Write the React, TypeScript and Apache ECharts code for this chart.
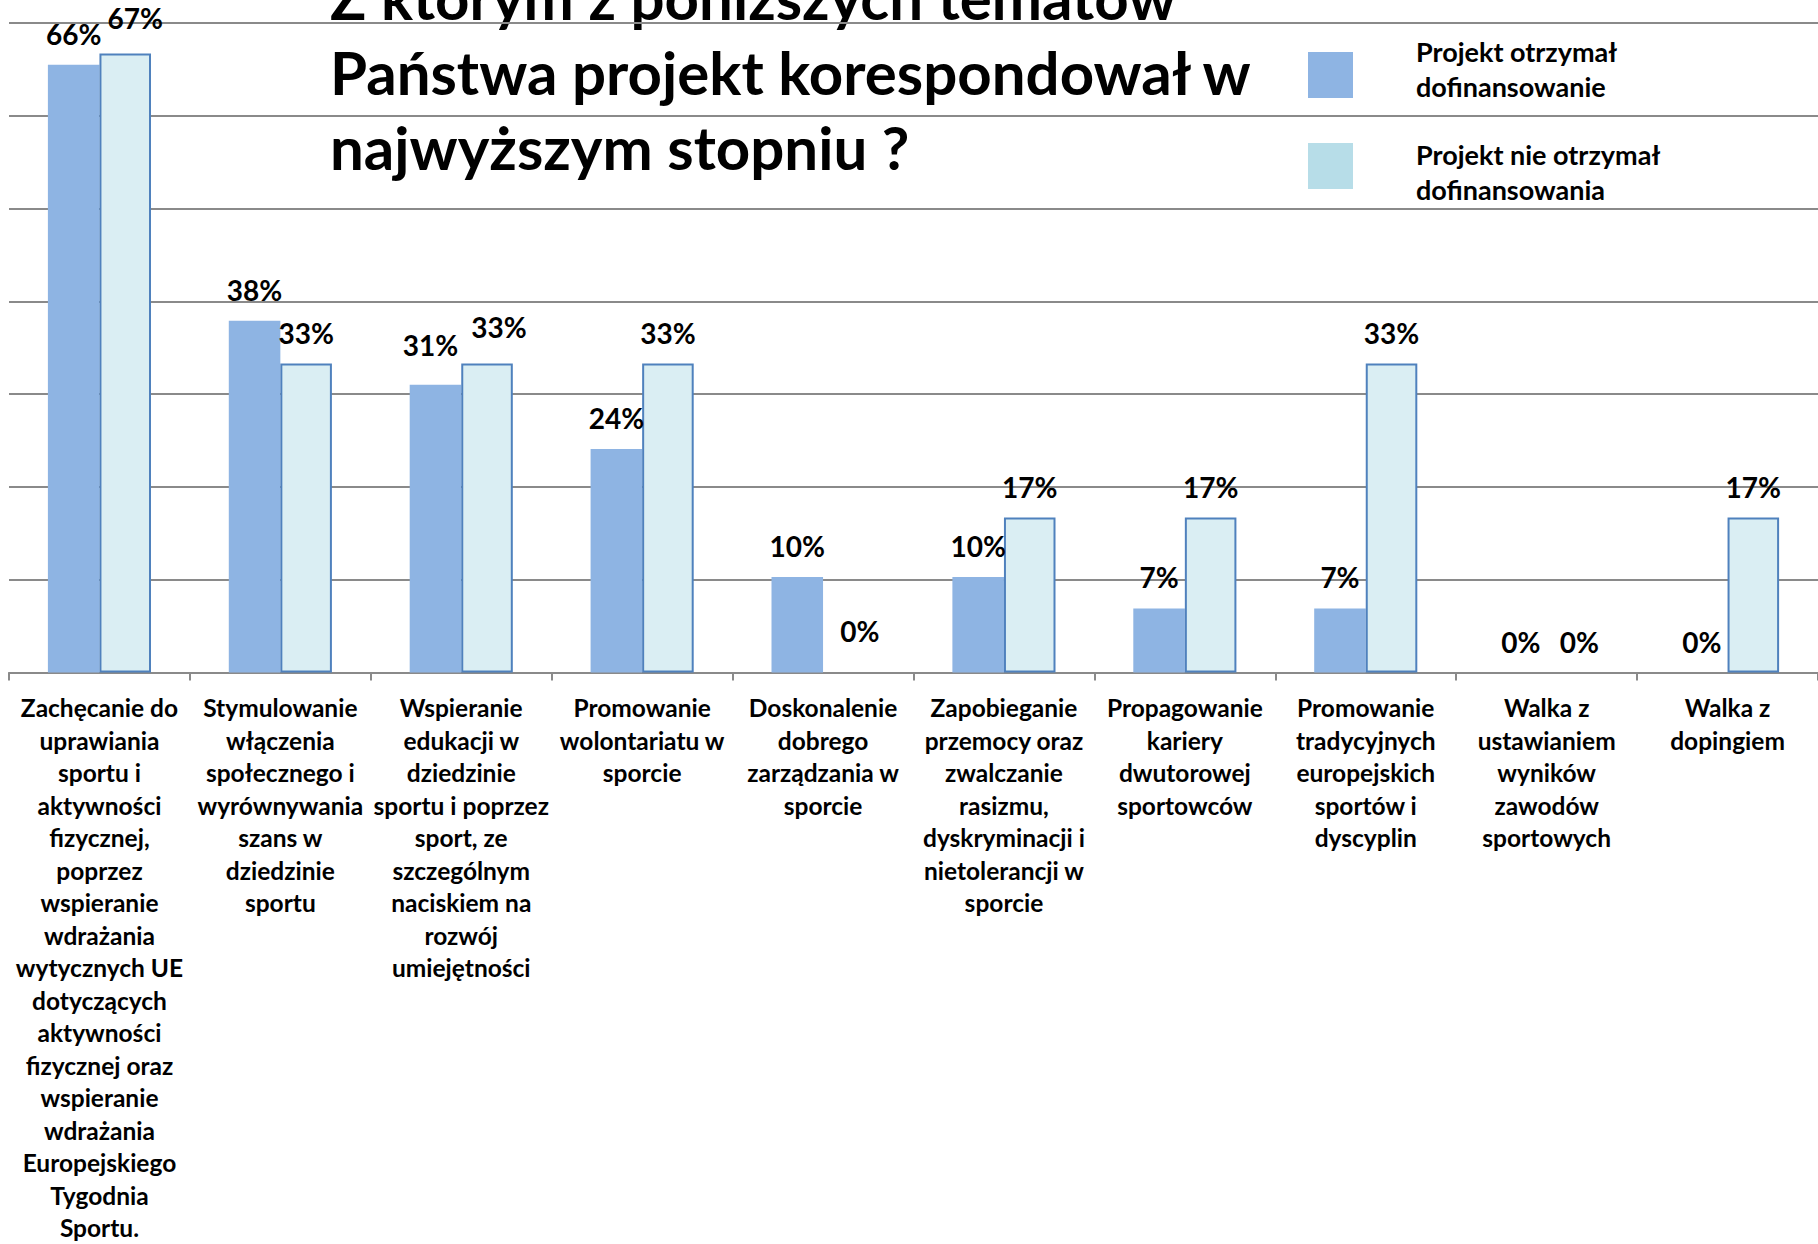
import React, { useEffect, useRef } from "react";
import * as echarts from "echarts";

const categories = [
  "Zachęcanie do\nuprawiania\nsportu i\naktywności\nfizycznej,\npoprzez\nwspieranie\nwdrażania\nwytycznych UE\ndotyczących\naktywności\nfizycznej oraz\nwspieranie\nwdrażania\nEuropejskiego\nTygodnia\nSportu.",
  "Stymulowanie\nwłączenia\nspołecznego i\nwyrównywania\nszans w\ndziedzinie\nsportu",
  "Wspieranie\nedukacji w\ndziedzinie\nsportu i poprzez\nsport, ze\nszczególnym\nnaciskiem na\nrozwój\numiejętności",
  "Promowanie\nwolontariatu w\nsporcie",
  "Doskonalenie\ndobrego\nzarządzania w\nsporcie",
  "Zapobieganie\nprzemocy oraz\nzwalczanie\nrasizmu,\ndyskryminacji i\nnietolerancji w\nsporcie",
  "Propagowanie\nkariery\ndwutorowej\nsportowców",
  "Promowanie\ntradycyjnych\neuropejskich\nsportów i\ndyscyplin",
  "Walka z\nustawianiem\nwyników\nzawodów\nsportowych",
  "Walka z\ndopingiem",
];

const seriesNames = [
  "Projekt otrzymał dofinansowanie",
  "Projekt nie otrzymał dofinansowania",
];

const fundedValues = [65.5, 37.9, 31.0, 24.1, 10.3, 10.3, 6.9, 6.9, 0, 0];
const notFundedValues = [66.7, 33.3, 33.3, 33.3, 0, 16.7, 16.7, 33.3, 0, 16.7];

const titleLines = [
  "Z którym z poniższych tematów",
  "Państwa projekt korespondował w",
  "najwyższym stopniu ?",
];

const Y_MIN = 0;
const Y_MAX = 70;
const Y_INTERVAL = 10;

const FONT = "Lato";
const BLUE = "#8EB4E3";
const LIGHT = "#DAEEF3";
const LIGHT_LEGEND = "#B7DDE8";
const BORDER = "#4F81BD";
const GRID = "#8A8A8A";

// per-label nudges (manual label placement in the original)
const fundedLabelOffsets: Record<number, number[]> = { 2: [-5, -9] };
const notFundedLabelOffsets: Record<number, number[]> = {
  0: [10, -5],
  2: [12, -6],
  4: [11, -11],
  8: [7, 0],
};

// legend layout (swatch top, text block centre)
const legendItems = [
  { name: seriesNames[0], color: BLUE, swatchY: 52, textY: 69 },
  { name: seriesNames[1], color: LIGHT_LEGEND, swatchY: 143, textY: 172 },
];

export default function App() {
  const ref = useRef<HTMLDivElement>(null);

  useEffect(() => {
    if (!ref.current) return;
    const chart = echarts.init(ref.current, null, { renderer: "svg" });

    const labelBase = {
      show: true,
      position: "top" as const,
      distance: 17,
      color: "#000",
      fontFamily: FONT,
      fontWeight: "bold" as const,
      fontSize: 28,
      formatter: (p: any) => Math.round(p.value) + "%",
    };

    const fundedData = fundedValues.map((v, i) => ({
      value: v,
      label: fundedLabelOffsets[i] ? { offset: fundedLabelOffsets[i] } : undefined,
    }));
    const notFundedData = notFundedValues.map((v, i) => ({
      value: v,
      itemStyle: v === 0 ? { borderWidth: 0 } : undefined,
      label: notFundedLabelOffsets[i] ? { offset: notFundedLabelOffsets[i] } : undefined,
    }));

    const titleGraphics = titleLines.map((t, i) => ({
      type: "text",
      x: 330,
      y: -3 + i * 75,
      silent: true,
      style: {
        text: t,
        fill: "#000",
        fontFamily: FONT,
        fontWeight: "bold",
        fontSize: 60,
        verticalAlign: "middle",
        align: "left",
      },
    }));

    const legendGraphics: any[] = [];
    legendItems.forEach((it) => {
      legendGraphics.push({
        type: "rect",
        x: 1308,
        y: it.swatchY,
        silent: true,
        shape: { width: 45, height: 46 },
        style: { fill: it.color },
      });
      legendGraphics.push({
        type: "text",
        x: 1416,
        y: it.textY,
        silent: true,
        style: {
          text: it.name.replace(" dofinans", "\ndofinans"),
          fill: "#000",
          fontFamily: FONT,
          fontWeight: "bold",
          fontSize: 27,
          lineHeight: 34.5,
          verticalAlign: "middle",
          align: "left",
        },
      });
    });

    const option: any = {
      animation: false,
      backgroundColor: "#fff",
      textStyle: { fontFamily: FONT },
      grid: { left: 9, right: -8, top: 23, bottom: 567, containLabel: false },
      graphic: [...titleGraphics, ...legendGraphics],
      xAxis: {
        type: "category",
        data: categories,
        axisLine: { show: true, lineStyle: { color: GRID, width: 2 } },
        axisTick: { show: true, length: 8, lineStyle: { color: GRID, width: 2 } },
        axisLabel: {
          interval: 0,
          margin: 19,
          color: "#000",
          fontFamily: FONT,
          fontWeight: "bold",
          fontSize: 24.5,
          lineHeight: 32.5,
          align: "center",
        },
        splitLine: { show: false },
      },
      yAxis: {
        type: "value",
        min: Y_MIN,
        max: Y_MAX,
        interval: Y_INTERVAL,
        axisLine: { show: false },
        axisTick: { show: false },
        axisLabel: { show: false },
        splitLine: { show: true, lineStyle: { color: GRID, width: 2 } },
      },
      series: [
        {
          name: seriesNames[0],
          type: "bar",
          data: fundedData,
          barGap: "0%",
          barCategoryGap: "43%",
          itemStyle: { color: BLUE },
          label: labelBase,
        },
        {
          name: seriesNames[1],
          type: "bar",
          data: notFundedData,
          barGap: "0%",
          barCategoryGap: "43%",
          itemStyle: { color: LIGHT, borderColor: BORDER, borderWidth: 2 },
          label: labelBase,
        },
      ],
    };

    chart.setOption(option);
    return () => chart.dispose();
  }, []);

  return (
    <div
      ref={ref}
      style={{ position: "absolute", left: 0, top: 0, width: 1818, height: 1244, background: "#fff" }}
    />
  );
}
